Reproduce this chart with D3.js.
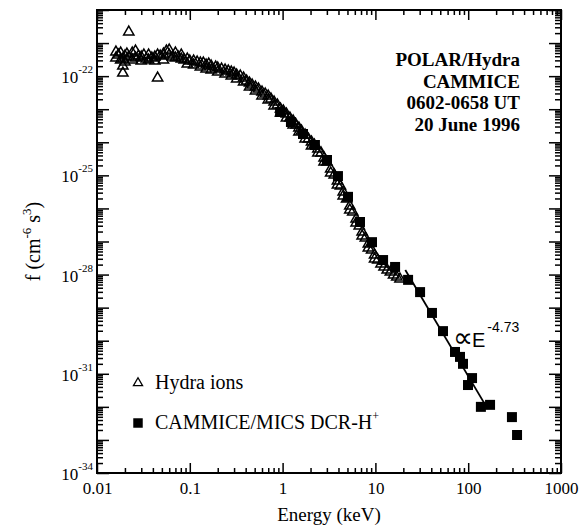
<!DOCTYPE html>
<html>
<head>
<meta charset="utf-8">
<script src="https://cdn.jsdelivr.net/npm/d3@7"></script>
<style>
  body { margin: 0; background: #fff; }
  svg { display: block; }
</style>
</head>
<body>
<script>
// ---------- data ----------
// Hydra ions (open triangles): energy in keV, phase-space density f in cm^-6 s^3
const hydraE = [
  0.016, 0.017, 0.018, 0.019, 0.020, 0.021, 0.022, 0.024, 0.026, 0.028, 0.030, 0.032, 0.034, 0.036,
  0.039, 0.042, 0.045, 0.048, 0.052, 0.056, 0.060, 0.065, 0.070, 0.075, 0.081, 0.087, 0.094, 0.10,
  0.11, 0.12, 0.13, 0.14, 0.15, 0.16, 0.17, 0.19, 0.20, 0.22, 0.24, 0.26, 0.28, 0.30, 0.32, 0.35,
  0.38, 0.41, 0.44, 0.47, 0.51, 0.55, 0.60, 0.65, 0.70, 0.75, 0.81, 0.88, 0.95, 1.02, 1.1, 1.2,
  1.3, 1.4, 1.5, 1.6, 1.75, 1.9, 2.05, 2.2, 2.4, 2.6, 2.8, 3.0, 3.3, 3.6, 3.9, 4.2, 4.5, 4.9, 5.3,
  5.7, 6.2, 6.7, 7.2, 7.8, 8.4, 9.1, 9.8, 10.6, 11.5, 12.4, 13.4, 14.5, 15.7, 17.0, 18.4,
  // outliers
  0.022, 0.019, 0.019, 0.045,
  // second sweep
  0.016, 0.018, 0.020, 0.024, 0.026, 0.030, 0.036, 0.042, 0.052, 0.060, 0.070, 0.081, 0.094,
  0.11, 0.13, 0.15, 0.17, 0.20, 0.24, 0.28, 0.32, 0.38, 0.44, 0.51, 0.60, 0.70, 0.81, 0.95, 1.1,
  1.3, 1.5, 1.75, 2.05, 2.4, 2.8, 3.3, 3.9, 4.5, 5.3, 6.2, 7.2, 8.4, 9.8
];
const hydraF = [
  3.54e-22, 4.36e-22, 5.01e-22, 3.30e-22, 4.06e-22, 4.67e-22, 3.79e-22, 5.01e-22, 3.54e-22, 4.06e-22, 3.79e-22, 4.36e-22, 3.30e-22, 3.08e-22,
  3.54e-22, 3.79e-22, 4.36e-22, 4.06e-22, 4.67e-22, 5.76e-22, 4.36e-22, 3.79e-22, 3.54e-22, 3.79e-22, 3.30e-22, 3.08e-22, 3.30e-22, 2.87e-22,
  2.87e-22, 2.68e-22, 2.50e-22, 2.50e-22, 2.17e-22, 2.33e-22, 2.02e-22, 1.89e-22, 1.76e-22, 1.64e-22, 1.53e-22, 1.43e-22, 1.33e-22, 1.24e-22, 1.08e-22, 1.01e-22,
  8.78e-23, 7.13e-23, 6.20e-23, 5.40e-23, 4.70e-23, 4.09e-23, 3.31e-23, 2.88e-23, 2.51e-23, 2.04e-23, 1.65e-23, 1.34e-23, 1.01e-23, 8.83e-24, 7.17e-24, 5.42e-24,
  4.40e-24, 3.33e-24, 2.70e-24, 2.20e-24, 1.66e-24, 1.26e-24, 1.02e-24, 8.27e-25, 6.26e-25, 4.74e-25, 3.35e-25, 2.54e-25, 1.56e-25, 1.03e-25, 6.75e-26, 4.77e-26, 3.14e-26, 1.93e-26, 1.18e-26,
  7.80e-27, 4.79e-27, 2.94e-27, 1.94e-27, 1.28e-27, 8.40e-28, 5.53e-28, 3.91e-28, 2.76e-28, 2.09e-28, 1.69e-28, 1.37e-28, 1.19e-28, 9.70e-29, 8.44e-29, 7.34e-29,
  2.16e-21, 2.02e-22, 1.24e-22, 8.78e-23,
  5.37e-22, 3.08e-22, 2.68e-22, 3.08e-22, 5.76e-22, 2.87e-22, 4.36e-22, 2.87e-22, 3.08e-22, 6.17e-22, 5.01e-22, 4.36e-22, 2.33e-22,
  2.17e-22, 1.89e-22, 1.64e-22, 1.53e-22, 1.33e-22, 1.16e-22, 1.01e-22, 8.19e-23, 6.65e-23, 4.70e-23, 3.56e-23, 2.51e-23, 1.90e-23, 1.25e-23, 7.68e-24, 5.42e-24,
  3.33e-24, 2.05e-24, 1.26e-24, 7.71e-25, 4.74e-25, 2.54e-25, 1.18e-25, 5.11e-26, 2.38e-26, 8.96e-27, 3.62e-27, 1.47e-27, 6.36e-28, 2.96e-28
];

// CAMMICE/MICS DCR-H+ (filled squares)
const camE = [0.94, 1.23, 1.66, 2.23, 3.01, 3.95, 5.07, 6.82, 9.19, 12.1, 16.3, 22.5, 30.3, 40.7,
              53.5, 72.1, 81.6, 87.9, 110, 99.5, 137, 172, 296, 336];
const camF = [8.24e-24, 4.10e-24, 1.78e-24, 8.28e-25, 2.91e-25, 9.5e-26, 2.24e-26, 3.89e-27, 9.55e-28,
              2.75e-28, 1.70e-28, 6.92e-29, 2.95e-29, 6.92e-30, 1.95e-30, 4.57e-31, 3.24e-31, 2.00e-31,
              7.41e-32, 4.57e-32, 1.00e-32, 1.15e-32, 4.90e-33, 1.41e-33];

// power-law fit line (end points), ∝ E^-4.73
const fitE = [21, 155];
const fitF = [1.38e-28, 1.07e-32];

// ticks
const xMajor = [0.01, 0.1, 1, 10, 100, 1000];
const xTickLabels = ["0.01", "0.1", "1", "10", "100", "1000"];
const yLabelExps = [-22, -25, -28, -31, -34];
const yLabelText = ["-22", "-25", "-28", "-31", "-34"];

const infoLines = ["POLAR/Hydra", "CAMMICE", "0602-0658 UT", "20 June 1996"];
const legendLabels = ["Hydra ions", "CAMMICE/MICS DCR-H"];

// ---------- layout ----------
const W = 588, H = 529;
const L = 97, R = 561, T = 10, B = 473;
const serif = "'Liberation Serif', 'Times New Roman', Times, serif";
const sans = "'Liberation Sans', Arial, Helvetica, sans-serif";

const x = d3.scaleLog().domain([0.01, 1000]).range([L, R]);
const y = d3.scaleLog().domain([1e-34, 1e-20]).range([B, T]);

const svg = d3.select("body").append("svg").attr("width", W).attr("height", H);

// minor tick values
const xMinor = [];
for (let e = -2; e < 3; e++) for (let k = 2; k <= 9; k++) xMinor.push(k * Math.pow(10, e));
const yMajor = [];
const yMinor = [];
for (let e = -34; e <= -20; e++) {
  yMajor.push(Math.pow(10, e));
  if (e < -20) for (let k = 2; k <= 9; k++) yMinor.push(k * Math.pow(10, e));
}

function styleAxis(g) {
  g.select(".domain").remove();
  g.selectAll(".tick line").attr("stroke", "#000").attr("stroke-width", 1.5);
}

// bottom
svg.append("g").attr("transform", `translate(0,${B})`)
  .call(d3.axisBottom(x).tickValues(xMinor).tickSize(-5).tickFormat(""))
  .call(styleAxis);
svg.append("g").attr("transform", `translate(0,${B})`)
  .call(d3.axisBottom(x).tickValues(xMajor).tickSize(-10).tickPadding(9)
        .tickFormat((d, i) => xTickLabels[i]))
  .call(styleAxis)
  .call(g => g.selectAll("text").attr("font-family", serif).attr("font-size", 17).attr("fill", "#000"));
// top
svg.append("g").attr("transform", `translate(0,${T})`)
  .call(d3.axisTop(x).tickValues(xMinor).tickSize(-5).tickFormat(""))
  .call(styleAxis);
svg.append("g").attr("transform", `translate(0,${T})`)
  .call(d3.axisTop(x).tickValues(xMajor).tickSize(-10).tickFormat(""))
  .call(styleAxis);
// left
svg.append("g").attr("transform", `translate(${L},0)`)
  .call(d3.axisLeft(y).tickValues(yMinor).tickSize(-6).tickFormat(""))
  .call(styleAxis);
svg.append("g").attr("transform", `translate(${L},0)`)
  .call(d3.axisLeft(y).tickValues(yMajor).tickSize(-12).tickFormat(""))
  .call(styleAxis);
// right
svg.append("g").attr("transform", `translate(${R},0)`)
  .call(d3.axisRight(y).tickValues(yMinor).tickSize(-6).tickFormat(""))
  .call(styleAxis);
svg.append("g").attr("transform", `translate(${R},0)`)
  .call(d3.axisRight(y).tickValues(yMajor).tickSize(-12).tickFormat(""))
  .call(styleAxis);

// frame
svg.append("rect").attr("x", L).attr("y", T).attr("width", R - L).attr("height", B - T)
  .attr("fill", "none").attr("stroke", "#000").attr("stroke-width", 2);

// y tick labels 10^n
yLabelExps.forEach((e, i) => {
  const yy = y(Math.pow(10, e));
  const t = svg.append("text").attr("font-family", serif).attr("fill", "#000")
    .attr("text-anchor", "end").attr("x", 93).attr("y", yy + 7);
  t.append("tspan").attr("font-size", 17).text("10");
  t.append("tspan").attr("font-size", 11).attr("dy", -10).text(yLabelText[i]);
});

// axis titles
svg.append("text").attr("x", (L + R) / 2).attr("y", 521).attr("text-anchor", "middle")
  .attr("font-family", serif).attr("font-size", 19).attr("fill", "#000").text("Energy (keV)");
const yt = svg.append("text").attr("transform", `translate(40,${(T + B) / 2}) rotate(-90)`)
  .attr("text-anchor", "middle").attr("font-family", serif).attr("font-size", 20).attr("fill", "#000");
yt.append("tspan").text("f (cm");
yt.append("tspan").attr("font-size", 13).attr("dy", -9).text("-6");
yt.append("tspan").attr("dy", 9).text(" s");
yt.append("tspan").attr("font-size", 13).attr("dy", -9).text("3");
yt.append("tspan").attr("dy", 9).text(")");

// fit line
const fitData = fitE.map((e, i) => [e, fitF[i]]);
svg.append("path").datum(fitData)
  .attr("d", d3.line().x(d => x(d[0])).y(d => y(d[1])))
  .attr("fill", "none").attr("stroke", "#000").attr("stroke-width", 1.8);

// hydra triangles
const tri = d3.symbol(d3.symbolTriangle, 46)();
svg.append("g").selectAll("path").data(hydraE.map((e, i) => [e, hydraF[i]])).join("path")
  .attr("d", tri)
  .attr("transform", d => `translate(${x(d[0])},${y(d[1])})`)
  .attr("fill", "none").attr("stroke", "#000").attr("stroke-width", 1.5);

// cammice squares
const sq = d3.symbol(d3.symbolSquare, 100)();
svg.append("g").selectAll("path").data(camE.map((e, i) => [e, camF[i]])).join("path")
  .attr("d", sq)
  .attr("transform", d => `translate(${x(d[0])},${y(d[1])})`)
  .attr("fill", "#000");

// info block
infoLines.forEach((s, i) => {
  svg.append("text").attr("x", 520).attr("y", 66 + i * 21.5).attr("text-anchor", "end")
    .attr("font-family", serif).attr("font-weight", "bold").attr("font-size", 19)
    .attr("fill", "#000").text(s);
});

// power law annotation
svg.append("text").attr("x", 453).attr("y", 347).attr("fill", "#000")
  .attr("font-family", "'DejaVu Sans', sans-serif").attr("font-size", 28).text("\u221D");
const pl = svg.append("text").attr("x", 472).attr("y", 347).attr("fill", "#000");
pl.append("tspan").attr("font-family", sans).attr("font-size", 20).text("E");
pl.append("tspan").attr("font-family", sans).attr("font-size", 14).attr("dx", 2).attr("dy", -15).text("-4.73");

// legend
svg.append("path").attr("d", d3.symbol(d3.symbolTriangle, 36)())
  .attr("transform", "translate(138,383)").attr("fill", "none").attr("stroke", "#000").attr("stroke-width", 1.3);
svg.append("path").attr("d", d3.symbol(d3.symbolSquare, 90)())
  .attr("transform", "translate(138,423)").attr("fill", "#000");
svg.append("text").attr("x", 155).attr("y", 389).attr("font-family", serif).attr("font-size", 20)
  .attr("fill", "#000").text(legendLabels[0]);
const lt = svg.append("text").attr("x", 155).attr("y", 429).attr("font-family", serif).attr("font-size", 20)
  .attr("fill", "#000");
lt.append("tspan").text(legendLabels[1]);
lt.append("tspan").attr("font-size", 12).attr("dy", -9).text("+");
</script>
</body>
</html>
